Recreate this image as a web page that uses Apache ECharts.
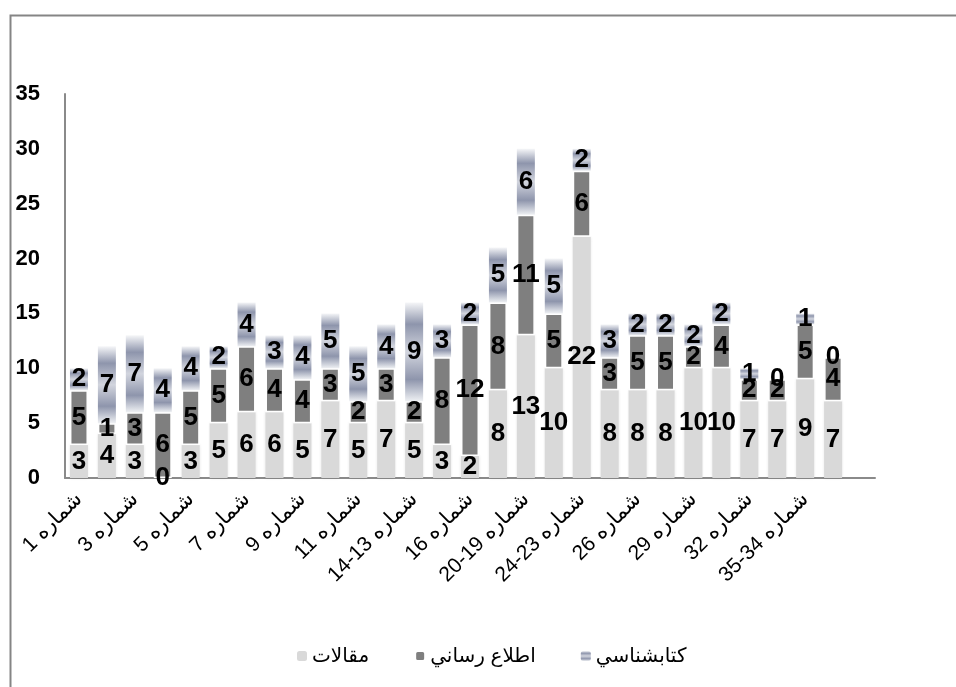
<!DOCTYPE html>
<html>
<head>
<meta charset="utf-8">
<script src="https://cdn.jsdelivr.net/npm/echarts@6/dist/echarts.min.js"></script>
<style>
  html, body { margin: 0; padding: 0; background: #fff; }
  #chart { width: 956px; height: 687px; }
</style>
</head>
<body>
<div id="chart"></div>
<script>
// categories (last slot is empty in the original chart)
var categories = [
  'شماره 1', 'شماره 2', 'شماره 3', 'شماره 4', 'شماره 5', 'شماره 6', 'شماره 7',
  'شماره 8', 'شماره 9', 'شماره 10', 'شماره 11', 'شماره 12', 'شماره 13-14',
  'شماره 15', 'شماره 16', 'شماره 17-18', 'شماره 19-20', 'شماره 21-22',
  'شماره 23-24', 'شماره 25', 'شماره 26', 'شماره 27-28', 'شماره 29',
  'شماره 30-31', 'شماره 32', 'شماره 33', 'شماره 34-35', 'شماره 36', ''
]
var seriesNames = ['مقالات', 'اطلاع رساني', 'كتابشناسي']
var maqalat = [3, 4, 3, 0, 3, 5, 6, 6, 5, 7, 5, 7, 5, 3, 2, 8, 13, 10, 22, 8, 8, 8, 10, 10, 7, 7, 9, 7, null]
var etelaRasani = [5, 1, 3, 6, 5, 5, 6, 4, 4, 3, 2, 3, 2, 8, 12, 8, 11, 5, 6, 3, 5, 5, 2, 4, 2, 2, 5, 4, null]
var ketabshenasi = [2, 7, 7, 4, 4, 2, 4, 3, 4, 5, 5, 4, 9, 3, 2, 5, 6, 5, 2, 3, 2, 2, 2, 2, 1, 0, 1, 0, null]

var fontFam = '"Liberation Sans", Arial, "DejaVu Sans", sans-serif'

var dataLabel = {
  show: true,
  position: 'inside',
  color: '#000',
  fontWeight: 'bold',
  fontSize: 26,
  fontFamily: fontFam
}

var chrome = new echarts.graphic.LinearGradient(0, 0, 0, 1, [
  { offset: 0, color: '#f5f6f8' },
  { offset: 0.22, color: '#8e95ac' },
  { offset: 0.5, color: '#d2d5de' },
  { offset: 0.78, color: '#8e95ac' },
  { offset: 1, color: '#eef0f3' }
])

var chart = echarts.init(document.getElementById('chart'))
var option = {
  animation: false,
  backgroundColor: '#fff',
  graphic: [{
    type: 'rect',
    left: 8,
    top: 13,
    z: -1,
    shape: { width: 1100, height: 800 },
    style: { fill: 'none', stroke: '#858585', lineWidth: 2 }
  }],
  grid: {
    left: 65,
    right: 81,
    top: 94,
    bottom: 209
  },
  legend: {
    data: seriesNames,
    left: 292,
    top: 641,
    itemWidth: 10,
    itemHeight: 10,
    itemGap: 45,
    textStyle: { fontSize: 20, color: '#000', fontFamily: fontFam }
  },
  xAxis: {
    type: 'category',
    data: categories,
    axisLine: { lineStyle: { color: '#8a8a8a', width: 2 } },
    axisTick: { show: false },
    axisLabel: {
      interval: 1,
      rotate: 45,
      margin: 18,
      color: '#000',
      fontSize: 21,
      fontFamily: fontFam,
      formatter: function (v) { return '\u202B' + v + '\u202C' }
    }
  },
  yAxis: {
    type: 'value',
    min: 0,
    max: 35,
    interval: 5,
    axisLine: { show: true, lineStyle: { color: '#8a8a8a', width: 2 } },
    axisTick: { show: false },
    splitLine: { show: false },
    axisLabel: {
      margin: 25,
      color: '#000',
      fontWeight: 'bold',
      fontSize: 22,
      fontFamily: fontFam
    }
  },
  series: [
    {
      name: seriesNames[0],
      type: 'bar',
      stack: 'total',
      barWidth: 18,
      data: maqalat,
      itemStyle: { color: '#d9d9d9', shadowBlur: 3, shadowColor: 'rgba(0,0,0,0.12)' },
      label: dataLabel
    },
    {
      name: seriesNames[1],
      type: 'bar',
      stack: 'total',
      barWidth: 18,
      data: etelaRasani,
      itemStyle: { color: '#7f7f7f', borderColor: '#fff', borderWidth: 1.5 },
      label: dataLabel
    },
    {
      name: seriesNames[2],
      type: 'bar',
      stack: 'total',
      barWidth: 18,
      data: ketabshenasi,
      itemStyle: { color: chrome },
      label: dataLabel
    }
  ]
}
chart.setOption(option)
window.addEventListener('resize', function () { chart.resize() })
</script>
</body>
</html>
